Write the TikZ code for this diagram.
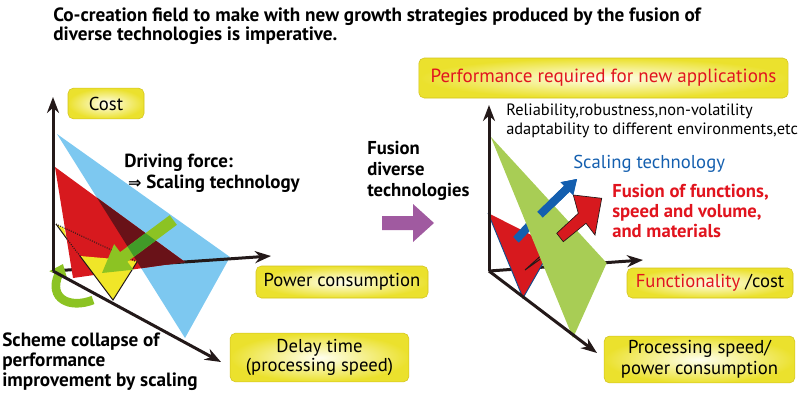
\documentclass[tikz,border=0pt]{standalone}
\usepackage{fontspec}
\setmainfont{PT Sans}
\newfontfamily\symbolfont{DejaVu Sans}
\usetikzlibrary{arrows.meta}
\definecolor{planeblue}{RGB}{125,200,240}
\definecolor{planered}{RGB}{215,25,30}
\definecolor{planedark}{RGB}{105,18,24}
\definecolor{planeyellow}{RGB}{240,230,40}
\definecolor{planegreen}{RGB}{168,205,85}
\definecolor{arrowgreen}{RGB}{140,195,35}
\definecolor{arrowdkgreen}{RGB}{65,155,40}
\definecolor{fusionpurple}{RGB}{160,90,160}
\definecolor{textred}{RGB}{225,20,30}
\definecolor{textblue}{RGB}{20,95,175}
\definecolor{boxyellow}{RGB}{235,225,45}
\definecolor{boxedge}{RGB}{210,195,30}
\definecolor{axisblack}{RGB}{35,25,25}
\tikzstyle{axis} = [line width=2.25pt, draw=axisblack, -{Stealth[length=12pt,width=9pt]}]
\tikzstyle{axislabel} = [rectangle, rounded corners=4pt, draw=boxedge, inner color=yellow!6!white, outer color=boxyellow, align=center, font=\fontsize{14}{14.5}\selectfont]
\tikzstyle{caption} = [anchor=west, align=left, inner sep=0pt]
\tikzstyle{edge} = [line width=0.75pt, draw=axisblack]

\begin{document}
\begin{tikzpicture}[x=0.75pt, y=-0.75pt]
\useasboundingbox (0,0) rectangle (800,400);

\node (title) [caption, font=\bfseries\fontsize{14.4}{14.3}\selectfont] at (53,26) {Co-creation field to make with new growth strategies produced by the fusion of\\diverse technologies is imperative.};

% left: scaling
\coordinate (Lo) at (53,271);
\coordinate (Lcost) at (53,97);
\coordinate (Lpow) at (271,256);
\coordinate (Ldel) at (221,362);

\fill[planeblue] (57,134) -- (230,257) -- (185,338) -- cycle;
\draw[axis] (Lo) -- (Lpow);
\fill[planered] (55,167) -- (185,262) -- (73,278) -- cycle;
\begin{scope}
\clip (57,134) -- (230,257) -- (185,338) -- cycle;
\fill[planedark] (55,167) -- (185,262) -- (73,278) -- cycle;
\end{scope}
\fill[planeyellow] (56,224) -- (64,228) -- (66.7,238.7) -- cycle;
\fill[planeyellow] (80,256) -- (137,261) -- (113,300) -- cycle;
\draw[edge] (56,224) -- (66.7,238.7);
\draw[edge, densely dotted] (66.7,238.7) -- (80,256);
\draw[edge, densely dotted] (56,224) -- (137,262);
\draw[edge] (80,256) -- (113,300) -- (137,262);

\fill[arrowgreen] (169.7,215.2) -- (120.1,252.1) -- (114.1,244.1) -- (102,273) -- (133.3,269.7) -- (127.3,261.7) -- (176.9,224.8) -- cycle;
\begin{scope}
\clip (169.7,215.2) -- (120.1,252.1) -- (114.1,244.1) -- (102,273) -- (133.3,269.7) -- (127.3,261.7) -- (176.9,224.8) -- cycle;
\clip (57,134) -- (230,257) -- (185,338) -- cycle;
\fill[arrowdkgreen] (55,167) -- (185,262) -- (73,278) -- cycle;
\end{scope}
\draw[line width=6.5pt, arrowgreen, -{Triangle[length=9pt,width=14pt]}] (93,300) .. controls (70,309) and (48,299) .. (63,264);

\draw[axis] (Lo) -- (Lcost);
\draw[axis] (Lo) -- (Ldel);

\node (cost) [axislabel, minimum width=57pt, minimum height=23pt] at (106,103.5) {Cost};
\node (power) [axislabel, minimum width=129pt, minimum height=24pt] at (342,282) {Power consumption};
\node (delay) [axislabel, minimum width=134pt, minimum height=36.5pt] at (319.5,357.5) {Delay time\\(processing speed)};

\node (drive) [caption, font=\bfseries\fontsize{14.2}{15.5}\selectfont] at (124,173) {Driving force:\\\hspace{0.2em}{\symbolfont\fontsize{12}{12}\selectfont ⇒} Scaling technology};
\node (scheme) [caption, font=\bfseries\fontsize{14.4}{15}\selectfont] at (2,362) {Scheme collapse of\\performance\\improvement by scaling};

% fusion
\node (fusion) [caption, font=\bfseries\fontsize{14}{15.5}\selectfont] at (367,171) {Fusion\\diverse\\technologies};
\fill[fusionpurple] (382,216) -- (413,216) -- (413,204) -- (434,223) -- (413,242) -- (413,230) -- (382,230) -- cycle;

% right: new applications
\coordinate (Ro) at (489,271);
\coordinate (Rtop) at (489,105);
\coordinate (Rfun) at (643,260);
\coordinate (Rproc) at (597,353);

\draw[axis] (Ro) -- (Rfun);
\fill[planered] (488,213) -- (553,246) -- (523,298) -- cycle;
\draw[line width=0.7pt, draw=textblue!80!black] (488,213) -- (523,298) -- (543,263);
\draw[edge] (541.7,255) -- (525,270) -- (540,259.3);
\fill[textblue] (513.2,236.9) -- (531.2,217.6) -- (564.1,185.8) -- (560.6,182.2) -- (577,179) -- (573.2,195.2) -- (569.7,191.6) -- (536.8,223.4) -- (518.8,242.7) -- cycle;
\fill[planegreen] (490.7,136.7) -- (606.7,263) -- (573,338) -- cycle;
\fill[textblue] (537.2,211.8) -- (564.1,185.8) -- (560.6,182.2) -- (577,179) -- (573.2,195.2) -- (569.7,191.6) -- (542.8,217.6) -- cycle;
\filldraw[planered, draw=axisblack, line width=0.5pt] (556.7,233.3) -- (578.3,213.3) -- (573.3,195) -- (601.7,198.3) -- (595,235) -- (586,223.3) -- (563.3,241.7) -- cycle;

\draw[axis] (Ro) -- (Rtop);
\draw[axis] (Ro) -- (Rproc);

\node (perf) [axislabel, text=textred, minimum width=277pt, minimum height=30pt, font=\fontsize{14.3}{14.5}\selectfont] at (603.5,78) {Performance required for new applications};
\node (func) [axislabel, minimum width=124.5pt, minimum height=22.5pt] at (710,283) {\textcolor{textred}{Functionality} /cost};
\node (proc) [axislabel, minimum width=143pt, minimum height=35pt, font=\fontsize{14}{15.75}\selectfont] at (699.5,359.5) {Processing speed/\\power consumption};

\node (reliab) [caption, font=\fontsize{12.3}{14.5}\selectfont] at (506,121) {Reliability,robustness,non-volatility\\adaptability to different environments,etc};
\node (scaling) [caption, text=textblue, font=\fontsize{14}{15}\selectfont] at (573,164) {Scaling technology};
\node (fusefunc) [caption, text=textred, font=\bfseries\fontsize{14}{15}\selectfont] at (612,211) {Fusion of functions,\\speed and volume,\\and materials};
\end{tikzpicture}
\end{document}
